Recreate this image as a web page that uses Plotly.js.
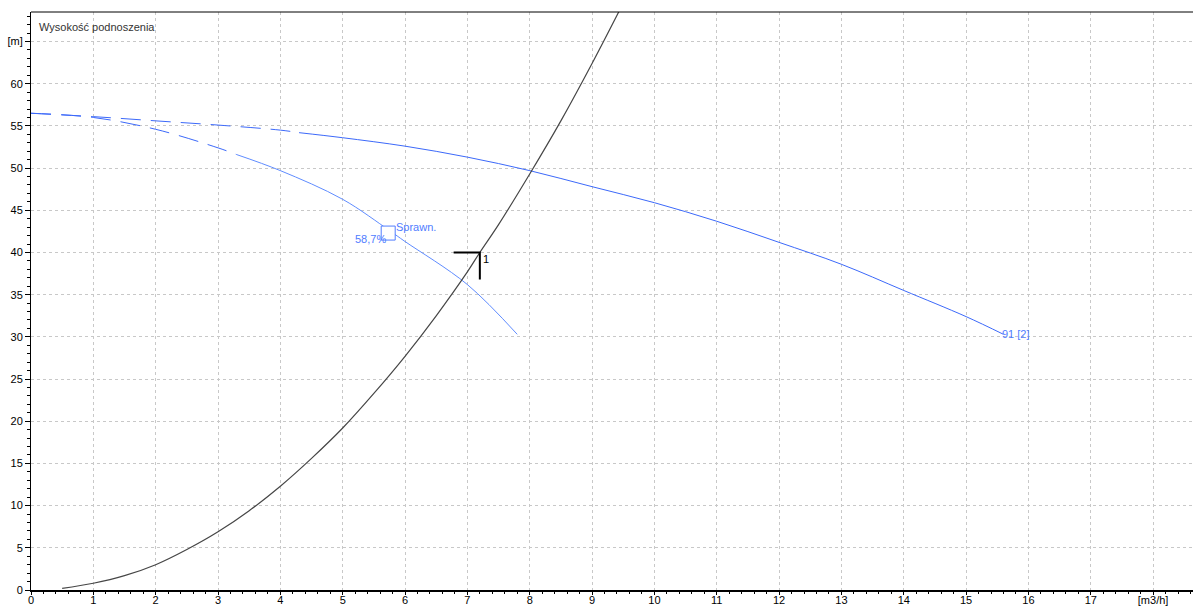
<!DOCTYPE html>
<html>
<head>
<meta charset="utf-8">
<script src="https://cdn.plot.ly/plotly-3.0.1.min.js"></script>
<style>html,body{margin:0;padding:0;background:#fff;}#chart{width:1193px;height:607px;}</style>
</head>
<body>
<div id="chart"></div>
<script>
// Pump curve 91 [2] (head vs flow)
const pumpQ = [0, 1, 2, 3, 4, 4.3, 5, 6, 7, 8, 9, 10, 11, 12, 13, 14, 15, 15.6];
const pumpH = [56.5, 56.1, 55.6, 55.1, 54.5, 54.2, 53.6, 52.6, 51.3, 49.7, 47.8, 45.9, 43.7, 41.2, 38.6, 35.5, 32.4, 30.3];
const pumpDashEnd = 4.3;
// Efficiency-related curve ("Sprawn.")
const effQ = [0, 1, 2, 3, 3.3, 4, 5, 5.75, 6, 7, 7.8];
const effH = [56.5, 56.0, 54.6, 52.4, 51.6, 49.7, 46.3, 42.6, 41.3, 36.2, 30.3];
const effDashEnd = 3.3;
// System curve
const sysQ = [0.5, 1, 1.5, 2, 2.5, 3, 3.5, 4, 4.5, 5, 5.5, 6, 6.5, 7, 7.2, 7.5, 8, 8.5, 9, 9.6];
const sysH = [0.2, 0.8, 1.7, 3.0, 4.8, 6.9, 9.4, 12.3, 15.6, 19.2, 23.3, 27.7, 32.5, 37.7, 40.0, 43.3, 49.3, 55.6, 62.4, 71.0];
// Operating point "1"
const opQ = [6.78, 7.2, 7.2];
const opH = [40, 40, 36.8];
const opLabel = "1";
// Efficiency marker
const effMarkQ = 5.73, effMarkH = 42.3;
const effMarkText = "58,7%", effMarkName = "Sprawn.";
const pumpLabel = "91 [2]";
// Ticks
const xTickVals = [0,1,2,3,4,5,6,7,8,9,10,11,12,13,14,15,16,17,18];
const xTickText = ["0","1","2","3","4","5","6","7","8","9","10","11","12","13","14","15","16","17","[m3/h]"];
const yTickVals = [0,5,10,15,20,25,30,35,40,45,50,55,60,65];
const yTickText = ["0","5","10","15","20","25","30","35","40","45","50","55","60","[m]"];
const chartTitle = "Wysokość podnoszenia";

function split(xs, ys, cut) {
  const a = {x: [], y: []}, b = {x: [], y: []};
  xs.forEach((v, i) => {
    if (v <= cut) { a.x.push(v); a.y.push(ys[i]); }
    if (v >= cut) { b.x.push(v); b.y.push(ys[i]); }
  });
  return [a, b];
}
const [pA, pB] = split(pumpQ, pumpH, pumpDashEnd);
const [eA, eB] = split(effQ, effH, effDashEnd);
const blue1 = 'rgb(60,105,250)';
const blue2 = 'rgb(95,140,255)';
const txtBlue = 'rgb(80,125,255)';

const traces = [
  {x: eA.x, y: eA.y, mode: 'lines', line: {color: blue1, width: 1, dash: '20px,10px', shape: 'spline'}, hoverinfo: 'skip'},
  {x: eB.x, y: eB.y, mode: 'lines', line: {color: blue2, width: 1, shape: 'spline'}, hoverinfo: 'skip'},
  {x: pA.x, y: pA.y, mode: 'lines', line: {color: blue1, width: 1, dash: '20px,10px', shape: 'spline'}, hoverinfo: 'skip'},
  {x: pB.x, y: pB.y, mode: 'lines', line: {color: blue1, width: 1, shape: 'spline'}, hoverinfo: 'skip'},
  {x: sysQ, y: sysH, mode: 'lines', line: {color: 'rgb(70,70,70)', width: 1.2, shape: 'spline'}, hoverinfo: 'skip'},
  {x: opQ, y: opH, mode: 'lines', line: {color: '#000', width: 2}, hoverinfo: 'skip'}
];

const font = {family: 'Liberation Sans, Arial, sans-serif', size: 11, color: '#000'};
const layout = {
  width: 1193, height: 607,
  margin: {l: 31, r: 0, t: 12, b: 17, pad: 0},
  paper_bgcolor: '#fff', plot_bgcolor: '#fff',
  showlegend: false,
  font: font,
  xaxis: {
    range: [0, 18.64], tickvals: xTickVals, ticktext: xTickText,
    showgrid: true, gridcolor: '#c8c8c8', griddash: '3px,3px', gridwidth: 1,
    zeroline: false, showline: true, linecolor: '#000', linewidth: 2, mirror: false,
    ticks: 'outside', ticklen: 3, tickcolor: '#000', tickwidth: 1,
    ticklabelstandoff: -4,
    minor: {dtick: 0.2, ticks: 'outside', ticklen: 2, tickcolor: '#000', showgrid: false},
    tickfont: font, fixedrange: true
  },
  yaxis: {
    range: [0, 68.5], tickvals: yTickVals, ticktext: yTickText,
    showgrid: true, gridcolor: '#c8c8c8', griddash: '3px,3px', gridwidth: 1,
    zeroline: false, showline: true, linecolor: '#000', linewidth: 1,
    ticks: 'outside', ticklen: 5, tickcolor: '#000', tickwidth: 1,
    minor: {dtick: 1, ticks: 'outside', ticklen: 3, tickcolor: '#000', showgrid: false},
    tickfont: font, fixedrange: true
  },
  shapes: [
    {type: 'line', xref: 'paper', yref: 'paper', x0: 0, x1: 1, y0: 1, y1: 1, line: {color: '#000', width: 1}},
    {type: 'rect', xref: 'x', yref: 'y', xsizemode: 'pixel', ysizemode: 'pixel',
     xanchor: effMarkQ, yanchor: effMarkH, x0: -7, x1: 7, y0: -7, y1: 7,
     line: {color: txtBlue, width: 1}, fillcolor: '#fff'}
  ],
  annotations: [
    {text: chartTitle, xref: 'paper', yref: 'paper', x: 0, y: 1, xshift: 6, yshift: -15,
     xanchor: 'left', yanchor: 'middle', showarrow: false, font: {family: font.family, size: 11, color: '#333'}},
    {text: effMarkName, x: effMarkQ, y: effMarkH, xshift: 6, yshift: 6, xanchor: 'left', yanchor: 'middle',
     showarrow: false, font: {family: font.family, size: 11, color: txtBlue}},
    {text: effMarkText, x: effMarkQ, y: effMarkH, xshift: 0, yshift: -6, xanchor: 'right', yanchor: 'middle',
     showarrow: false, font: {family: font.family, size: 11, color: txtBlue}},
    {text: opLabel, x: opQ[1], y: opH[1], xshift: 1, yshift: -7, xanchor: 'left', yanchor: 'middle',
     showarrow: false, font: {family: font.family, size: 11, color: '#000'}},
    {text: pumpLabel, x: pumpQ[pumpQ.length - 1], y: pumpH[pumpH.length - 1], xshift: -3, yshift: 0, xanchor: 'left', yanchor: 'middle',
     showarrow: false, font: {family: font.family, size: 11, color: txtBlue}}
  ]
};
Plotly.newPlot('chart', traces, layout, {displayModeBar: false, staticPlot: true});
</script>
</body>
</html>
